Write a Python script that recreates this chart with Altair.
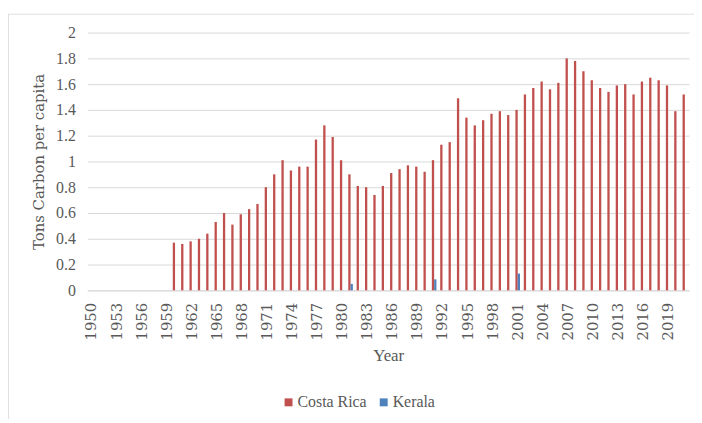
import altair as alt
import pandas as pd

all_years = [str(y) for y in range(1950, 2022)]
tick_years = [str(y) for y in range(1950, 2022, 3)]

cr_years = list(range(1960, 2022))
cr_values = [0.37, 0.36, 0.38, 0.40, 0.44, 0.53, 0.60, 0.51, 0.59, 0.63,
             0.67, 0.80, 0.90, 1.01, 0.93, 0.96, 0.96, 1.17, 1.28, 1.19,
             1.01,
             0.90, 0.81, 0.80, 0.74, 0.81, 0.91, 0.94, 0.97, 0.96, 0.92,
             1.01, 1.13, 1.15, 1.49, 1.34, 1.28, 1.32, 1.37, 1.39, 1.36,
             1.40, 1.52, 1.57, 1.62, 1.56, 1.61, 1.80, 1.78, 1.70, 1.63,
             1.57, 1.54, 1.59, 1.60, 1.52, 1.62, 1.65, 1.63, 1.59, 1.39, 1.52]

kerala_years = [1981, 1991, 2001]
kerala_values = [0.05, 0.085, 0.13]

series = ["Costa Rica", "Kerala"]
colors = ["#C0504D", "#4F81BD"]

rows = [{"year": str(y), "country": "Costa Rica", "value": v} for y, v in zip(cr_years, cr_values)]
rows += [{"year": str(y), "country": "Kerala", "value": v} for y, v in zip(kerala_years, kerala_values)]
df = pd.DataFrame(rows)

GRAY = "#595959"
GRID = "#D9D9D9"
FONT = "Liberation Serif"
RFONT = "DejaVu Serif"

bars = alt.Chart(df).mark_bar().encode(
    x=alt.X("year:O",
            scale=alt.Scale(domain=all_years, paddingInner=0.45, paddingOuter=0.225),
            axis=alt.Axis(values=tick_years, title="Year", labelAngle=-90,
                          labelFont=RFONT, labelFontSize=15, labelColor=GRAY,
                          labelPadding=12, ticks=False, domainColor=GRID,
                          titleFont=FONT, titleFontSize=17, titleColor=GRAY,
                          titleFontWeight="normal", titlePadding=8)),
    xOffset=alt.XOffset("country:N", scale=alt.Scale(domain=series, paddingInner=0)),
    y=alt.Y("value:Q",
            scale=alt.Scale(domain=[0, 2]),
            axis=alt.Axis(values=[0, 0.2, 0.4, 0.6, 0.8, 1, 1.2, 1.4, 1.6, 1.8, 2],
                          format=".1~f", title="Tons Carbon per capita",
                          labelFont=FONT, labelFontSize=16, labelColor=GRAY,
                          labelPadding=12, ticks=False, domain=False,
                          gridColor=GRID, gridWidth=1,
                          titleFont=RFONT, titleFontSize=15, titleColor=GRAY,
                          titleFontWeight="normal", titlePadding=9)),
    color=alt.Color("country:N",
                    scale=alt.Scale(domain=series, range=colors),
                    legend=alt.Legend(orient="none", legendX=195, legendY=365,
                                      direction="horizontal", title=None,
                                      symbolType="square", symbolSize=64,
                                      symbolStrokeWidth=0,
                                      labelFont=FONT, labelFontSize=16,
                                      labelColor=GRAY, labelOffset=1,
                                      columnPadding=9)),
)

frame_top = alt.Chart(pd.DataFrame({"a": [0]})).mark_rule(color="#E0E0E0", strokeWidth=1).encode(
    x=alt.value(-84), x2=alt.value(620), y=alt.value(-18.5))
frame_left = alt.Chart(pd.DataFrame({"a": [0]})).mark_rule(color="#E0E0E0", strokeWidth=1).encode(
    x=alt.value(-79.5), y=alt.value(-18.5), y2=alt.value(420))

chart = alt.layer(frame_top, frame_left, bars).properties(
    width=607, height=260,
    autosize=alt.AutoSizeParams(type="none"),
    padding={"left": 80, "top": 23, "right": 5, "bottom": 128},
).configure_view(stroke=None)

chart.save("out.html", embed_options={"renderer": "svg", "actions": False})
